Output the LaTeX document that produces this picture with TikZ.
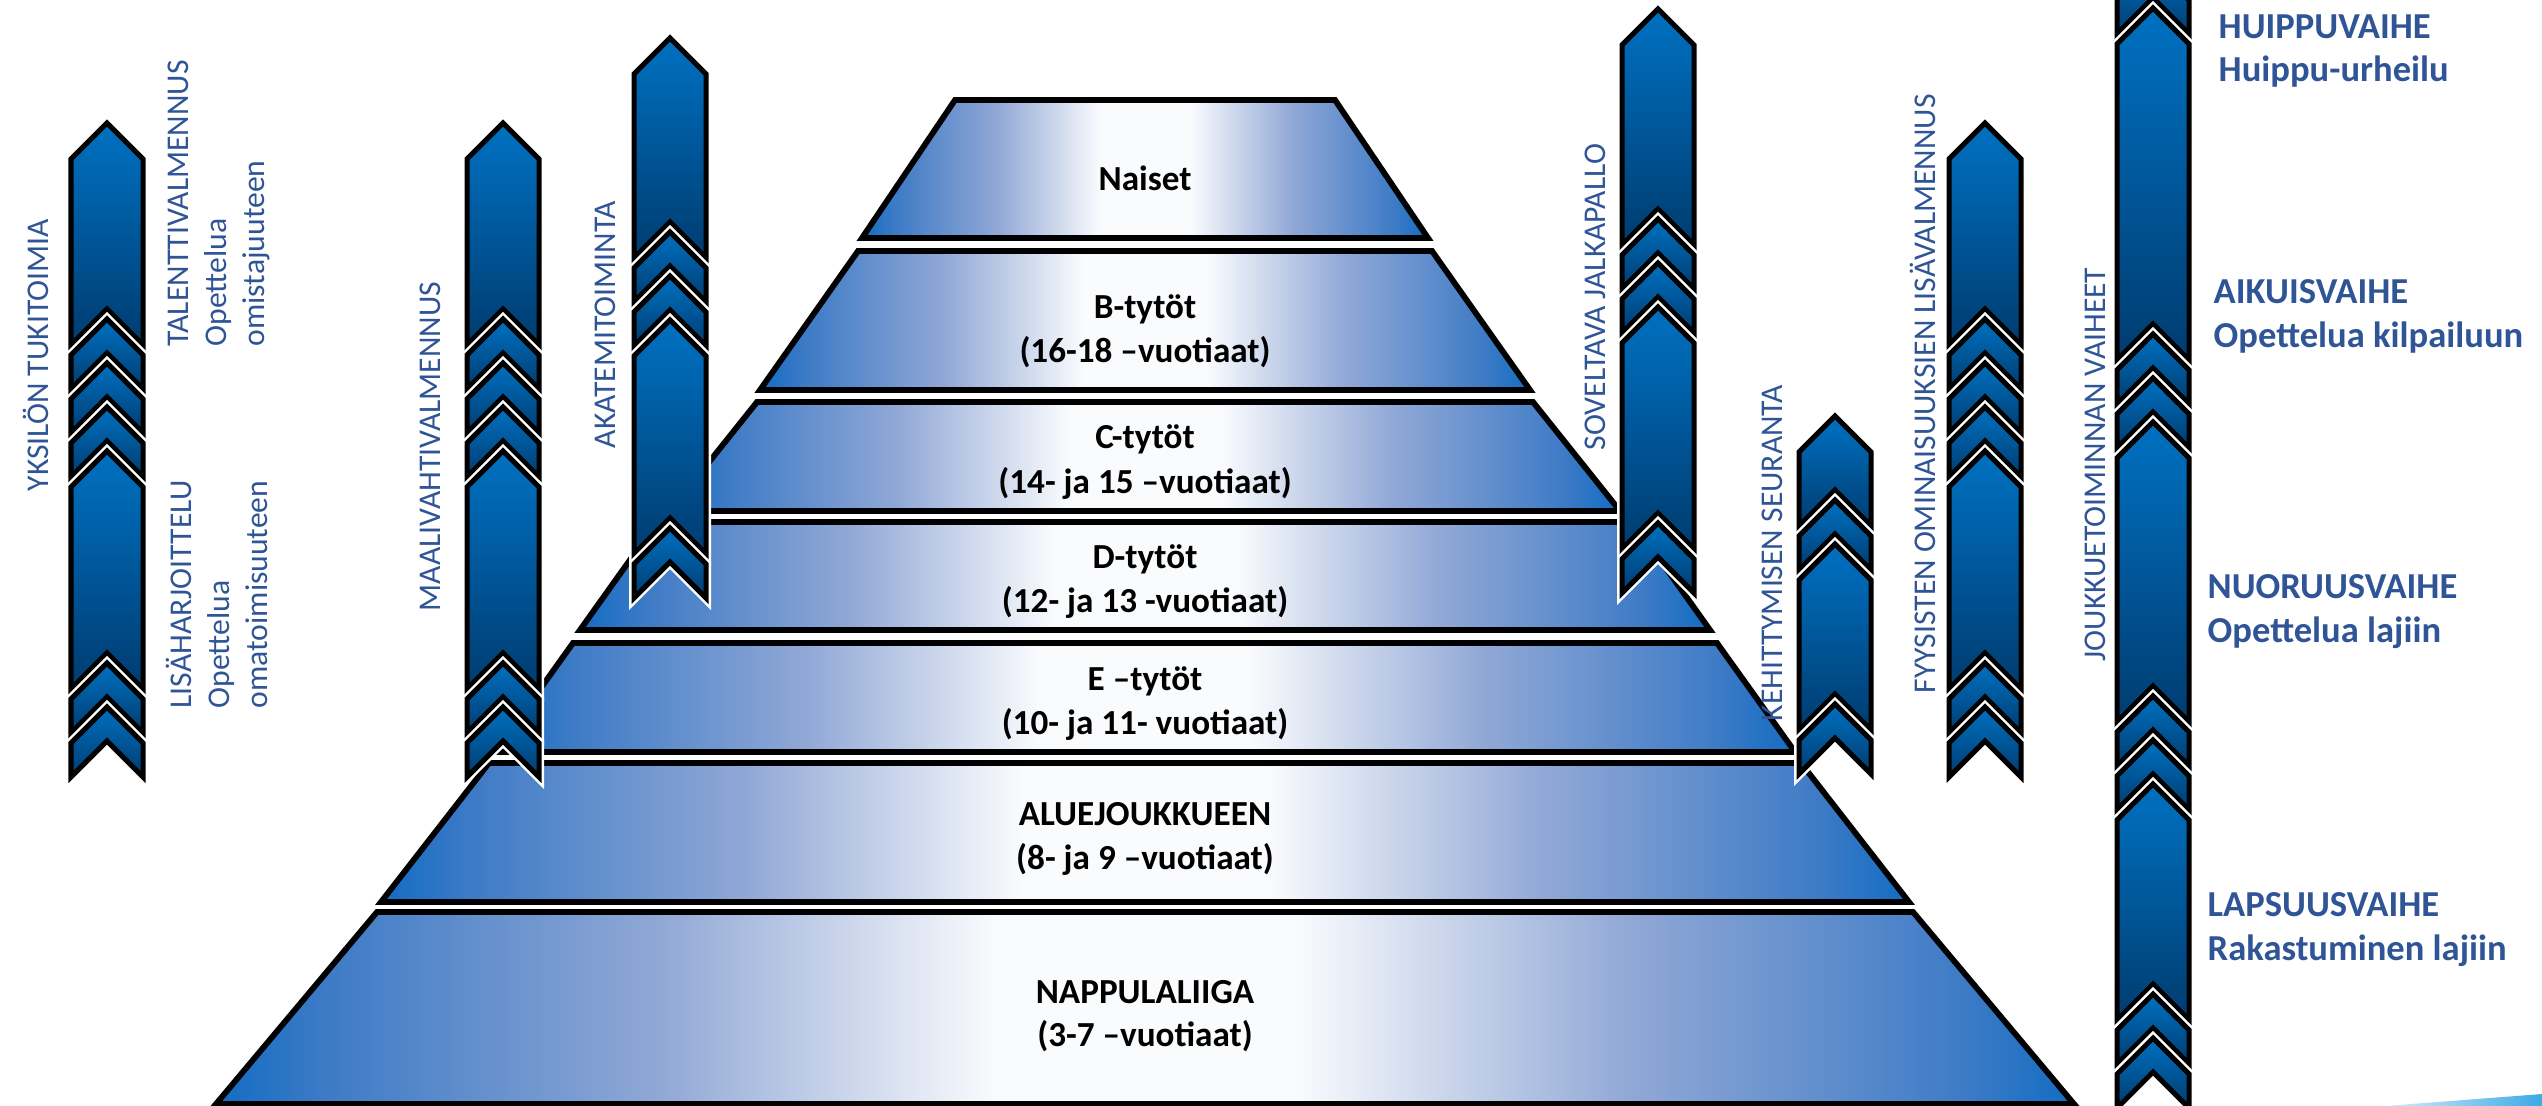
\documentclass[tikz,border=0pt]{standalone}
\usepackage{fontspec}
\setmainfont{Carlito}

% colours
\definecolor{segtop}{RGB}{0,113,194}
\definecolor{segbot}{RGB}{0,60,112}
\definecolor{pyrA}{RGB}{18,108,195}
\definecolor{pyrB}{RGB}{62,123,198}
\definecolor{pyrC}{RGB}{145,168,214}
\definecolor{pyrW}{RGB}{250,251,253}
\definecolor{labelblue}{RGB}{47,85,151}
\definecolor{skyL}{RGB}{215,236,250}
\definecolor{skyR}{RGB}{60,170,228}

% blue - white - blue band for the pyramid levels
\pgfdeclarehorizontalshading{pyrshade}{100bp}{color(0bp)=(pyrA); color(25bp)=(pyrA);
  color(28bp)=(pyrB); color(37bp)=(pyrC); color(46bp)=(pyrW); color(54bp)=(pyrW);
  color(63bp)=(pyrC); color(72bp)=(pyrB); color(75bp)=(pyrA); color(100bp)=(pyrA)}

% one chevron segment of a column: centre x, apex y, bottom y
\newcommand{\chevseg}[3]{%
  \path[segstyle] (#1,#2) -- (#1+36,#2+36) -- (#1+36,#3) -- (#1,#3-36)
    -- (#1-36,#3) -- (#1-36,#2+36) -- cycle;}

\begin{document}
\begin{tikzpicture}[x=0.01cm, y=-0.01cm,
  pyrlevel/.style={shade, shading=pyrshade, draw=black, line width=0.058cm},
  segstyle/.style={preaction={draw=white, line width=0.1cm},
    top color=segtop, bottom color=segbot, draw=black, line width=0.05cm},
  pyrtext/.style={font=\bfseries\fontsize{10}{12}\selectfont, text=black,
    inner sep=0pt, anchor=base},
  sidetext/.style={font=\fontsize{9}{11}\selectfont, text=labelblue,
    rotate=90, anchor=base west, inner sep=0pt},
  phasetext/.style={font=\bfseries\fontsize{10.4}{12.5}\selectfont,
    text=labelblue, anchor=base west, inner sep=0pt}]

\useasboundingbox (0,0) rectangle (2542,1106);
\clip (0,0) rectangle (2542,1106);

% pyramid levels, top to bottom
\foreach \ty/\thw/\by/\bhw in {100/190/238/283, 251/287/390/385,
    402/388/511/475, 522/488/630/565, 643/572/752/650,
    763/656/902/764, 912/768/1104/929}
  \path[pyrlevel] (1145-\thw,\ty) -- (1145+\thw,\ty) -- (1145+\bhw,\by)
    -- (1145-\bhw,\by) -- cycle;

% chevron columns
\foreach \a/\b in {123/345, 319/389, 363/433, 407/477, 451/689, 663/733, 707/777}
  {\chevseg{107}{\a}{\b}\chevseg{503}{\a}{\b}\chevseg{1985}{\a}{\b}}
\foreach \a/\b in {38/258, 232/302, 276/346, 320/554, 528/598}
  {\chevseg{670}{\a}{\b}}
\foreach \a/\b in {9/245, 219/289, 263/333, 307/549, 523/593}
  {\chevseg{1658}{\a}{\b}}
\foreach \a/\b in {416/526, 500/570, 544/730, 704/774}
  {\chevseg{1835}{\a}{\b}}
\foreach \a/\b in {-36/34, 8/360, 334/404, 378/448, 422/722, 696/766,
    740/810, 784/1020, 994/1064, 1038/1108}
  {\chevseg{2153}{\a}{\b}}

% light-blue sliver in the corner
\shade[left color=skyL, right color=skyR] (2385,1106) -- (2542,1094) -- (2542,1106) -- cycle;

% pyramid texts
\node[pyrtext] (naiset) at (1145,190) {Naiset};
\node[pyrtext] (bt1) at (1145,318) {B-tytöt};
\node[pyrtext] (bt2) at (1145,362) {(16-18 –vuotiaat)};
\node[pyrtext] (ct1) at (1145,448) {C-tytöt};
\node[pyrtext] (ct2) at (1145,493) {(14- ja 15 –vuotiaat)};
\node[pyrtext] (dt1) at (1145,568) {D-tytöt};
\node[pyrtext] (dt2) at (1145,612) {(12- ja 13 -vuotiaat)};
\node[pyrtext] (et1) at (1145,690) {E –tytöt};
\node[pyrtext] (et2) at (1145,734) {(10- ja 11- vuotiaat)};
\node[pyrtext] (al1) at (1145,825) {ALUEJOUKKUEEN};
\node[pyrtext] (al2) at (1145,869) {(8- ja 9 –vuotiaat)};
\node[pyrtext] (np1) at (1145,1003) {NAPPULALIIGA};
\node[pyrtext] (np2) at (1145,1046) {(3-7 –vuotiaat)};

% vertical side labels
\node[sidetext] (yks) at (48,492) {YKSILÖN TUKITOIMIA};
\node[sidetext] (tal1) at (188,347) {TALENTTIVALMENNUS};
\node[sidetext] (tal2) at (226,347) {Opettelua};
\node[sidetext] (tal3) at (264,347) {omistajuuteen};
\node[sidetext] (lis1) at (191,709) {LISÄHARJOITTELU};
\node[sidetext] (lis2) at (229,709) {Opettelua};
\node[sidetext] (lis3) at (267,709) {omatoimisuuteen};
\node[sidetext] (maali) at (440,612) {MAALIVAHTIVALMENNUS};
\node[sidetext] (akat) at (615,449) {AKATEMITOIMINTA};
\node[sidetext] (sovel) at (1605,451) {SOVELTAVA JALKAPALLO};
\node[sidetext] (kehit) at (1782,722) {KEHITTYMISEN SEURANTA};
\node[sidetext] (fyys) at (1935,694) {FYYSISTEN OMINAISUUKSIEN LISÄVALMENNUS};
\node[sidetext] (jouk) at (2105,662) {JOUKKUETOIMINNAN VAIHEET};

% phase labels
\node[phasetext] (ph1a) at (2218,38) {HUIPPUVAIHE};
\node[phasetext] (ph1b) at (2218,81) {Huippu-urheilu};
\node[phasetext] (ph2a) at (2213,303) {AIKUISVAIHE};
\node[phasetext] (ph2b) at (2213,347) {Opettelua kilpailuun};
\node[phasetext] (ph3a) at (2207,598) {NUORUUSVAIHE};
\node[phasetext] (ph3b) at (2207,642) {Opettelua lajiin};
\node[phasetext] (ph4a) at (2207,916) {LAPSUUSVAIHE};
\node[phasetext] (ph4b) at (2207,960) {Rakastuminen lajiin};
\end{tikzpicture}
\end{document}
